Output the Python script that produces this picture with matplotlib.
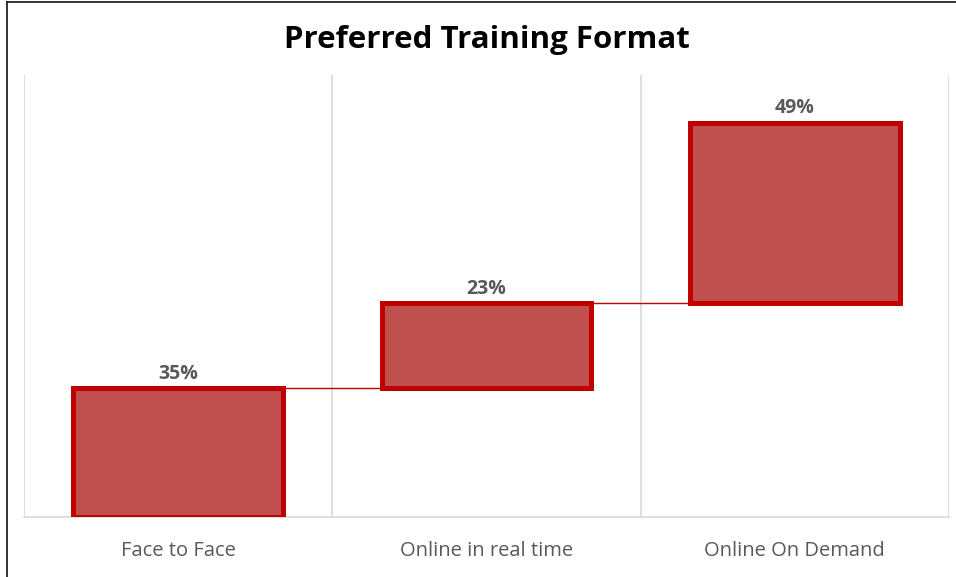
import matplotlib.pyplot as plt
import numpy as np

categories = ["Face to Face", "Online in real time", "Online On Demand"]
values = [35, 23, 49]
labels = ["35%", "23%", "49%"]

FILL = "#C0504D"
EDGE = "#C00000"
GRID = "#D9D9D9"
TEXT = "#595959"


def main() -> None:
    fig = plt.figure(figsize=(9.56, 5.77), dpi=100)
    ax = fig.add_axes([24 / 956, 60 / 577, 925 / 956, 442 / 577])

    x = np.arange(len(values))
    vals = np.array(values, dtype=float)
    bottoms = np.concatenate([[0], np.cumsum(vals)[:-1]])
    tops = bottoms + vals
    width = 0.68

    ax.bar(x, vals, bottom=bottoms, width=width, color=FILL,
           edgecolor=EDGE, linewidth=3.6, zorder=3)

    # connectors between bars
    for i in range(len(values) - 1):
        ax.plot([x[i] + width / 2, x[i + 1] - width / 2], [tops[i], tops[i]],
                color=EDGE, linewidth=1, zorder=2)

    for xi, top, lab in zip(x, tops, labels):
        ax.text(xi, top + 1.2, lab, ha="center", va="bottom", fontsize=14,
                fontweight="bold", color=TEXT, family="Open Sans")

    for b in np.arange(-0.5, len(values), 1.0):
        ax.axvline(b, color=GRID, linewidth=1.2, zorder=1)

    ax.set_xlim(-0.5, len(values) - 0.5)
    ax.set_ylim(0, 120)
    ax.set_yticks([])
    ax.set_xticks(x)
    ax.set_xticklabels(categories, fontsize=14.5, color=TEXT, family="Open Sans")
    ax.tick_params(axis="x", length=0, pad=17)
    for side in ["left", "right", "top"]:
        ax.spines[side].set_visible(False)
    ax.spines["bottom"].set_color(GRID)
    ax.spines["bottom"].set_linewidth(1.2)

    fig.text(487 / 956, 1 - 40 / 577, "Preferred Training Format", ha="center",
             va="center", fontsize=22.5, fontweight="bold", color="black",
             family="Open Sans")

    # outer frame (left and top edges visible)
    fig.add_artist(plt.Line2D([7 / 956, 7 / 956], [0, 1 - 2 / 577],
                              color="#222222", linewidth=1.3, transform=fig.transFigure))
    fig.add_artist(plt.Line2D([7 / 956, 1], [1 - 2 / 577, 1 - 2 / 577],
                              color="#222222", linewidth=1.3, transform=fig.transFigure))

    fig.savefig("out.png", dpi=100)
    plt.close(fig)


if __name__ == "__main__":
    main()
